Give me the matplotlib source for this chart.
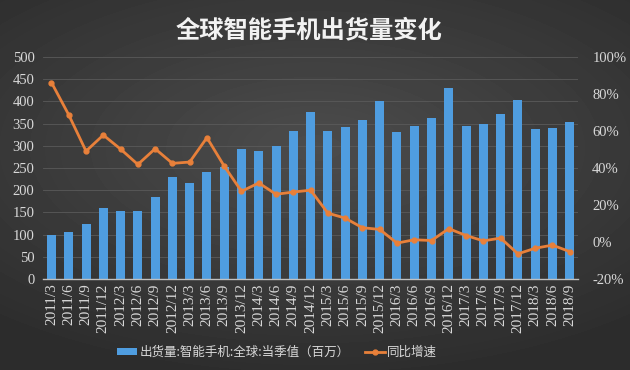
import numpy as np
import matplotlib
matplotlib.use('Agg')
import matplotlib.pyplot as plt
import matplotlib.ticker as ticker
from matplotlib.lines import Line2D
from matplotlib.patches import Patch

plt.rcParams['font.family'] = ['Noto Sans CJK SC', 'DejaVu Sans']

# data
quarters = ['2011/3', '2011/6', '2011/9', '2011/12', '2012/3', '2012/6', '2012/9', '2012/12',
            '2013/3', '2013/6', '2013/9', '2013/12', '2014/3', '2014/6', '2014/9', '2014/12',
            '2015/3', '2015/6', '2015/9', '2015/12', '2016/3', '2016/6', '2016/9', '2016/12',
            '2017/3', '2017/6', '2017/9', '2017/12', '2018/3', '2018/6', '2018/9']
shipments = [100, 105, 123, 159, 152, 152, 184, 229,
             217, 240, 252, 292, 288, 299, 333, 375,
             334, 342, 358, 401, 332, 345, 363, 431,
             345, 349, 372, 403, 337, 340, 354]
growth = [86.2, 68.7, 49.1, 57.8, 50.2, 41.9, 50.4, 42.5,
          43.2, 56.4, 41.0, 27.4, 31.9, 25.8, 27.0, 28.0,
          15.6, 12.9, 7.7, 6.8, -0.6, 1.2, 0.8, 7.2,
          3.5, 0.6, 2.1, -6.4, -3.4, -1.7, -5.2]

bar_label = '出货量:智能手机:全球:当季值（百万）'
line_label = '同比增速'
title = '全球智能手机出货量变化'

txt_col = '#d8d8d8'
bar_col = '#4f9de0'
line_col = '#e8803a'

fig = plt.figure(figsize=(6.3, 3.7), dpi=100)

# dark vignette background
bg = fig.add_axes([0, 0, 1, 1], zorder=-10)
yy, xx = np.mgrid[-1:1:370j, -1:1:630j]
r = np.sqrt((xx * 0.9) ** 2 + ((yy + 0.2) * 1.1) ** 2)
shade = 0.30 - 0.09 * np.clip(r, 0, 1.4)
bg.imshow(shade, cmap='gray', vmin=0, vmax=1, aspect='auto', extent=[0, 1, 0, 1])
bg.axis('off')

ax = fig.add_axes([0.068, 0.246, 0.85, 0.6])
ax.patch.set_alpha(0)
x = np.arange(len(quarters))
ax.bar(x, shipments, width=0.52, color=bar_col, zorder=2)
ax.set_ylim(0, 500)
ax.set_xlim(-0.5, 30.5)
ax.yaxis.set_major_locator(ticker.MultipleLocator(50))
ax.grid(axis='y', color='#5a5a5a', linewidth=0.6, zorder=0)
ax.set_xticks(x)
ax.set_xticklabels(quarters, rotation=90, fontsize=11, family='Liberation Serif', color=txt_col)
for lb in ax.get_yticklabels():
    lb.set_family('Liberation Serif')
ax.tick_params(axis='y', labelsize=10.5, colors=txt_col, length=0, pad=6)
ax.tick_params(axis='x', length=0, pad=3)
for s in ['top', 'right', 'left']:
    ax.spines[s].set_visible(False)
ax.spines['bottom'].set_color('#bfbfbf')
ax.spines['bottom'].set_linewidth(1.0)

ax2 = ax.twinx()
ax2.plot(x, growth, color=line_col, linewidth=2, marker='o', markersize=3.5, zorder=3)
ax2.set_ylim(-20, 100)
ax2.yaxis.set_major_locator(ticker.MultipleLocator(20))
ax2.yaxis.set_major_formatter(ticker.FuncFormatter(lambda v, p: '%d%%' % v))
for lb in ax2.get_yticklabels():
    lb.set_family('Liberation Serif')
ax2.tick_params(axis='y', labelsize=10.5, colors=txt_col, length=0, pad=10)
for s in ax2.spines.values():
    s.set_visible(False)

fig.text(0.49, 0.918, title, ha='center', va='center', fontsize=17.5,
         fontweight='bold', color='#f2f2f2')

handles = [Patch(facecolor=bar_col, edgecolor='none'),
           Line2D([0], [0], color=line_col, linewidth=2, marker='o', markersize=3.5)]
leg = fig.legend(handles, [bar_label, line_label], loc='center left', bbox_to_anchor=(0.168, 0.048),
                 ncol=2, frameon=False, fontsize=9, handlelength=1.6, handleheight=0.5,
                 columnspacing=1.2, handletextpad=0.2)
for t in leg.get_texts():
    t.set_color(txt_col)

fig.savefig('out.png', dpi=100)
